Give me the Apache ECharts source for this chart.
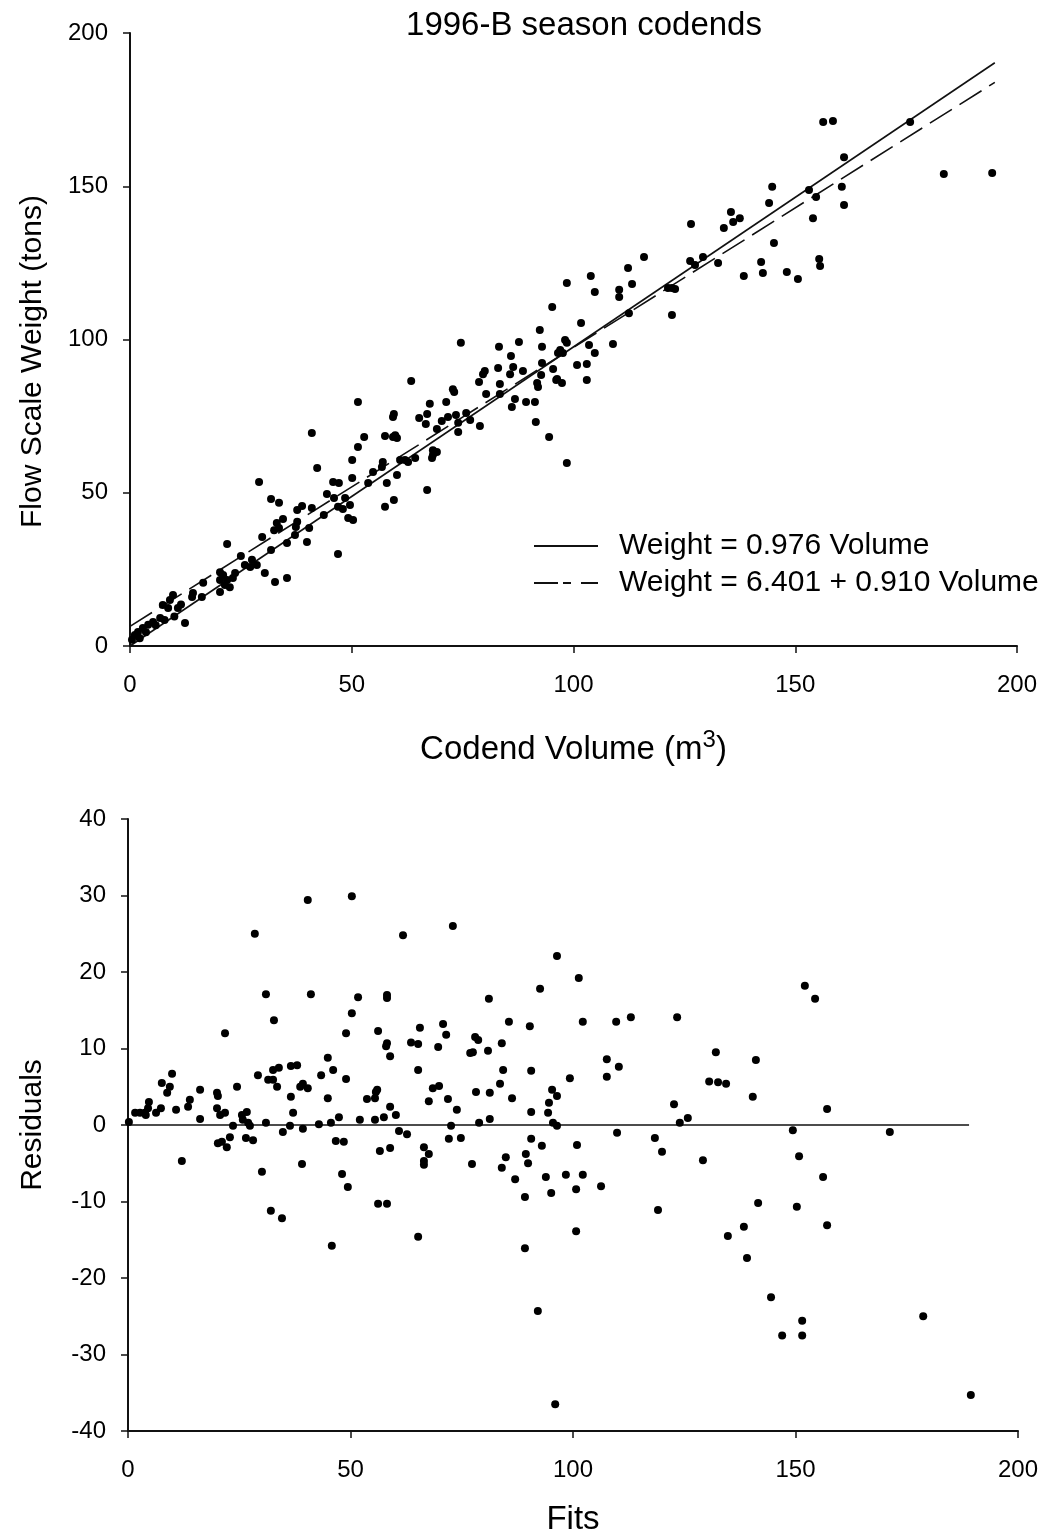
<!DOCTYPE html>
<html>
<head>
<meta charset="utf-8">
<title>1996-B season codends</title>
<script src="https://cdn.jsdelivr.net/npm/echarts@6/dist/echarts.min.js"></script>
<style>
  html, body { margin: 0; padding: 0; background: #fff; }
  #chart { width: 1043px; height: 1537px; }
</style>
</head>
<body>
<div id="chart"></div>
<script>
// codend volume (m3), flow scale weight (tons)
const volumeWeight = [
  [0.45, 2.0], [1.1, 3.6], [1.8, 4.6], [2.2, 2.5], [2.9, 5.9], [3.6, 4.5], [4.1, 6.9], [5.2, 7.8], [5.8, 6.8],
  [6.8, 9.1], [7.4, 13.4], [7.8, 8.5], [8.6, 12.4], [9.0, 15.0], [9.7, 16.6], [10.0, 9.6], [10.8, 12.4],
  [11.5, 13.5], [12.4, 7.5], [14.0, 16.0], [14.2, 17.3], [16.2, 16.0], [16.5, 20.6], [20.3, 24.1], [21.0, 23.2],
  [21.9, 21.5], [20.3, 21.5], [23.2, 22.2], [21.4, 19.9], [22.5, 19.2], [20.3, 17.6], [23.7, 23.8], [21.9, 33.3],
  [25.0, 29.4], [27.5, 28.1], [27.1, 25.8], [28.6, 26.4], [25.9, 26.4], [30.4, 23.8], [32.7, 20.9], [35.4, 22.2],
  [29.1, 53.5], [29.8, 35.6], [31.8, 48.0], [31.8, 31.3], [32.5, 37.8], [33.1, 40.1], [33.6, 46.7], [33.6, 38.5],
  [34.5, 41.4], [35.4, 33.6], [37.2, 36.2], [37.4, 38.8], [37.7, 44.4], [37.7, 40.5], [38.8, 45.7], [39.9, 33.9],
  [40.4, 38.5], [41.0, 69.5], [41.0, 45.0], [42.2, 58.1], [43.7, 42.7], [44.4, 49.6], [45.8, 53.5], [46.0, 48.3],
  [46.9, 45.4], [46.9, 30.0], [47.1, 53.2], [48.0, 44.7], [48.5, 48.3], [49.2, 41.8], [49.6, 46.0], [50.1, 60.7],
  [50.1, 54.8], [50.3, 41.1], [51.4, 79.6], [51.4, 64.9], [52.8, 68.2], [53.7, 53.2], [54.8, 56.8], [56.8, 58.4],
  [57.0, 60.0], [57.5, 68.5], [57.5, 45.4], [57.9, 53.2], [59.3, 74.7], [59.3, 68.2], [59.5, 75.7], [59.5, 47.6],
  [59.8, 68.8], [60.2, 67.9], [60.2, 55.8], [60.9, 60.7], [62.0, 60.7], [62.7, 60.0], [63.4, 86.5], [64.3, 61.3],
  [65.2, 74.4], [66.7, 72.4], [67.0, 75.7], [67.0, 50.9], [67.6, 79.0], [68.1, 61.3], [68.3, 63.9], [68.3, 62.3],
  [69.2, 70.8], [69.2, 63.3], [70.3, 73.4], [71.3, 79.6], [71.7, 74.7], [72.8, 83.8], [73.1, 82.9], [73.5, 75.4],
  [74.0, 69.8], [74.0, 72.8], [74.6, 98.9], [75.8, 76.0], [76.7, 73.7], [78.7, 86.1], [78.9, 71.8], [79.6, 88.7],
  [80.0, 89.7], [80.3, 82.2], [83.0, 90.7], [83.2, 97.6], [83.4, 85.5], [83.4, 82.2], [85.7, 88.7], [85.9, 94.6],
  [86.1, 78.0], [86.4, 91.0], [86.8, 80.6], [87.7, 99.2], [88.6, 89.7], [89.3, 79.6], [91.3, 79.6], [91.5, 73.1],
  [91.8, 85.8], [92.0, 84.5], [92.4, 103.1], [92.7, 88.4], [92.9, 97.6], [92.9, 92.3], [94.5, 68.2], [95.2, 110.6],
  [95.4, 90.4], [96.1, 86.8], [96.3, 87.1], [96.5, 95.6], [97.0, 96.6], [97.4, 85.8], [97.6, 95.6], [98.1, 99.8],
  [98.5, 118.4], [98.5, 98.9], [98.5, 59.7], [100.8, 91.7], [101.7, 105.4], [103.0, 92.0], [103.0, 86.8],
  [103.5, 98.2], [103.9, 120.7], [104.8, 115.5], [104.8, 95.6], [108.9, 98.5], [110.3, 116.2], [110.3, 113.9],
  [112.3, 123.3], [112.5, 108.6], [113.2, 118.1], [115.9, 126.9], [121.3, 116.8], [122.2, 116.8], [122.2, 108.0],
  [122.9, 116.5], [126.3, 125.6], [126.5, 137.7], [127.4, 124.3], [129.2, 126.9], [132.6, 125.0], [133.9, 136.4],
  [135.5, 141.6], [136.0, 138.3], [137.5, 139.6], [138.4, 120.7], [142.3, 125.3], [142.7, 121.7], [144.1, 144.5],
  [144.8, 149.8], [145.2, 131.5], [148.1, 122.0], [150.6, 119.7], [153.1, 148.8], [154.0, 139.6], [154.7, 146.5],
  [155.4, 126.3], [155.6, 124.0], [156.3, 171.0], [158.5, 171.3], [160.5, 149.8], [161.0, 159.5], [161.0, 143.9],
  [175.9, 171.0], [183.5, 154.0], [194.4, 154.3]
];

// regression lines, end points
const fitThroughOrigin = [[0, 0], [195, 190.3]];
const fitWithIntercept = [[0, 6.4], [195, 183.9]];
const fitNames = ['Weight = 0.976 Volume', 'Weight = 6.401 + 0.910 Volume'];

// fitted value, residual
const fitResidual = [
  [0.2, 0.4], [1.6, 1.6], [2.7, 1.6], [3.8, 1.6], [4.5, 2.2], [4.7, 3.0], [4.0, 1.3], [6.3, 1.6], [7.4, 2.2],
  [7.6, 5.5], [9.4, 5.0], [9.9, 6.7], [8.8, 4.2], [10.8, 2.0], [13.9, 3.3], [13.5, 2.4], [16.2, 4.6], [16.2, 0.8],
  [12.1, -4.7], [21.8, 12.0], [20.0, 4.2], [20.2, 3.8], [20.0, 2.2], [20.7, 1.3], [21.8, 1.6], [24.5, 5.0],
  [20.2, -2.4], [21.1, -2.2], [22.2, -2.9], [22.9, -1.6], [23.6, -0.1], [25.6, 1.3], [26.7, 1.7], [25.8, 0.7],
  [27.0, 0.3], [27.4, -0.1], [26.5, -1.7], [28.1, -2.0], [28.5, 25.0], [29.2, 6.5], [31.0, 17.1], [32.8, 13.7],
  [31.5, 5.9], [32.6, 5.9], [33.5, 5.0], [32.6, 7.2], [33.9, 7.5], [31.0, 0.3], [30.1, -6.1], [32.1, -11.2],
  [34.6, -12.2], [34.8, -0.9], [36.4, -0.1], [36.6, 3.7], [37.1, 1.6], [36.6, 7.7], [38.0, 7.8], [38.7, 5.0],
  [39.3, 5.4], [40.4, 4.8], [39.3, -0.5], [39.1, -5.1], [40.4, 29.4], [41.1, 17.1], [42.9, 0.1], [43.4, 6.5],
  [44.9, 8.8], [46.1, 7.2], [44.9, 3.5], [45.6, 0.3], [47.4, 1.0], [46.7, -2.1], [48.5, -2.2], [48.1, -6.4],
  [49.4, -8.1], [45.8, -15.8], [49.0, 6.0], [49.0, 12.0], [50.3, 29.9], [51.7, 16.7], [50.3, 14.6], [53.7, 3.4],
  [52.1, 0.7], [55.5, 0.7], [55.7, 4.3], [56.0, 4.6], [55.5, 3.5], [56.2, 12.3], [58.2, 17.0], [58.2, 16.6],
  [58.2, 10.7], [58.0, 10.3], [58.9, 9.0], [58.9, 2.4], [57.5, 1.0], [60.2, 1.3], [56.6, -3.4], [58.9, -3.0],
  [60.9, -0.8], [62.7, -1.2], [56.2, -10.3], [58.2, -10.3], [61.8, 24.8], [63.6, 10.8], [65.2, 10.6], [65.2, 7.2],
  [65.6, 12.7], [65.2, -14.6], [73.0, 26.0], [96.4, 22.1], [101.3, 19.2], [92.6, 17.8], [81.1, 16.5], [70.8, 13.2],
  [71.5, 11.8], [69.7, 10.2], [78.0, 11.5], [78.7, 11.1], [76.9, 9.4], [77.5, 9.5], [80.9, 9.7], [84.0, 10.7],
  [85.6, 13.5], [90.3, 12.9], [102.2, 13.5], [109.7, 13.5], [113.0, 14.1], [123.4, 14.1], [84.3, 7.2], [90.6, 7.1],
  [68.5, 4.8], [69.9, 5.1], [67.6, 3.1], [71.9, 3.4], [73.9, 2.0], [78.2, 4.3], [81.3, 4.2], [83.6, 5.4],
  [86.3, 3.5], [90.6, 1.7], [107.6, 8.6], [110.3, 7.6], [107.6, 6.3], [99.3, 6.1], [95.3, 4.6], [96.4, 3.8],
  [94.6, 2.9], [94.4, 1.6], [72.6, -0.1], [78.9, 0.3], [81.3, 0.8], [95.5, 0.3], [96.4, -0.1], [122.7, 2.7],
  [124.0, 0.3], [125.8, 0.9], [66.5, -2.9], [67.6, -3.8], [66.5, -4.7], [66.5, -5.2], [72.1, -1.8], [74.8, -1.7],
  [77.3, -5.1], [84.9, -4.2], [84.0, -5.6], [90.6, -1.8], [93.0, -2.7], [89.4, -3.8], [89.9, -5.0], [87.0, -7.1],
  [89.2, -9.4], [93.9, -6.8], [95.1, -8.9], [98.4, -6.5], [102.2, -6.5], [100.7, -8.4], [106.3, -8.0],
  [100.9, -2.6], [109.9, -1.0], [118.4, -1.7], [120.0, -3.5], [119.1, -11.1], [100.7, -13.9], [89.2, -16.1],
  [92.1, -24.3], [96.0, -36.5], [152.1, 18.2], [154.4, 16.5], [132.1, 9.5], [141.1, 8.5], [130.6, 5.7],
  [132.6, 5.6], [134.4, 5.4], [140.4, 3.7], [157.1, 2.1], [149.4, -0.7], [171.2, -0.9], [129.2, -4.6],
  [150.8, -4.1], [156.2, -6.8], [141.6, -10.2], [150.3, -10.7], [157.1, -13.1], [134.8, -14.5], [138.4, -13.3],
  [139.1, -17.4], [144.5, -22.5], [151.5, -25.6], [147.0, -27.5], [151.5, -27.5], [178.7, -25.0], [189.4, -35.3]
];
const zeroLine = [[0, 0], [189, 0]];

// axis ranges
const volumeTicks = [0, 50, 100, 150, 200];
const weightTicks = [0, 50, 100, 150, 200];
const fitTicks = [0, 50, 100, 150, 200];
const residualTicks = [-40, -30, -20, -10, 0, 10, 20, 30, 40];

const FONT = 'Liberation Sans, Arial, sans-serif';
const INK = '#111';
const DASH = [26, 9];

function axisBase(ticks) {
  return {
    type: 'value',
    min: ticks[0],
    max: ticks[ticks.length - 1],
    interval: ticks[1] - ticks[0],
    splitLine: { show: false },
    axisLine: { show: true, onZero: false, lineStyle: { color: INK, width: 2 } },
    axisTick: { show: true, inside: false, length: 7, lineStyle: { color: INK, width: 1.5 } },
    axisLabel: { color: '#000', fontSize: 24, fontFamily: FONT },
    nameTextStyle: { color: '#000', fontSize: 30, fontFamily: FONT }
  };
}

let myChart = echarts.init(document.getElementById('chart'), null, { renderer: 'canvas' });

let option = {
  backgroundColor: '#fff',
  animation: false,
  title: {
    text: '1996-B season codends',
    left: 579,
    textAlign: 'center',
    top: 4,
    textStyle: { color: '#000', fontSize: 33, fontWeight: 'normal', fontFamily: FONT }
  },
  legend: {
    orient: 'vertical',
    left: 533,
    top: 531,
    itemWidth: 64,
    itemHeight: 14,
    itemGap: 7,
    padding: 0,
    data: [
      { name: fitNames[0], itemStyle: { opacity: 0 } },
      { name: fitNames[1], itemStyle: { opacity: 0 }, lineStyle: { type: [24, 5, 8, 10] } }
    ],
    textStyle: { color: '#000', fontSize: 30, fontFamily: FONT, padding: [0, 0, 0, 16] }
  },
  grid: [
    { left: 130, top: 33, width: 887, height: 613 },
    { left: 128, top: 819, width: 890, height: 612 }
  ],
  xAxis: [
    Object.assign(axisBase(volumeTicks), {
      gridIndex: 0,
      name: 'Codend Volume (m{sup|3})',
      nameLocation: 'middle',
      nameGap: 82,
      axisLabel: { color: '#000', fontSize: 24, fontFamily: FONT, margin: 27 },
      nameTextStyle: {
        color: '#000', fontSize: 33, fontFamily: FONT,
        rich: { sup: { fontSize: 24, fontFamily: FONT, color: '#000', padding: [0, 0, 20, 0] } }
      }
    }),
    Object.assign(axisBase(fitTicks), {
      gridIndex: 1,
      name: 'Fits',
      nameLocation: 'middle',
      nameGap: 72,
      axisLabel: { color: '#000', fontSize: 24, fontFamily: FONT, margin: 27 },
      nameTextStyle: { color: '#000', fontSize: 33, fontFamily: FONT }
    })
  ],
  yAxis: [
    Object.assign(axisBase(weightTicks), {
      gridIndex: 0,
      name: 'Flow Scale Weight (tons)',
      nameLocation: 'middle',
      nameGap: 82,
      axisLabel: { color: '#000', fontSize: 24, fontFamily: FONT, margin: 22 },
      nameTextStyle: { color: '#000', fontSize: 30, fontFamily: FONT, padding: [0, 44, 0, 0] }
    }),
    Object.assign(axisBase(residualTicks), {
      gridIndex: 1,
      name: 'Residuals',
      nameLocation: 'middle',
      nameGap: 80,
      axisLabel: { color: '#000', fontSize: 24, fontFamily: FONT, margin: 22 }
    })
  ],
  series: [
    {
      name: fitNames[0],
      type: 'line',
      xAxisIndex: 0,
      yAxisIndex: 0,
      data: fitThroughOrigin,
      showSymbol: false,
      symbol: 'none',
      lineStyle: { color: INK, width: 1.6 },
      itemStyle: { color: INK },
      z: 3
    },
    {
      name: fitNames[1],
      type: 'line',
      xAxisIndex: 0,
      yAxisIndex: 0,
      data: fitWithIntercept,
      showSymbol: false,
      symbol: 'none',
      lineStyle: { color: INK, width: 1.6, type: DASH },
      itemStyle: { color: INK },
      z: 3
    },
    {
      name: 'Observed',
      type: 'scatter',
      xAxisIndex: 0,
      yAxisIndex: 0,
      data: volumeWeight,
      symbol: 'circle',
      symbolSize: 8,
      itemStyle: { color: '#000', opacity: 1 },
      z: 4
    },
    {
      name: 'Zero',
      type: 'line',
      xAxisIndex: 1,
      yAxisIndex: 1,
      data: zeroLine,
      showSymbol: false,
      symbol: 'none',
      lineStyle: { color: INK, width: 1.6 },
      z: 3
    },
    {
      name: 'Residuals',
      type: 'scatter',
      xAxisIndex: 1,
      yAxisIndex: 1,
      data: fitResidual,
      symbol: 'circle',
      symbolSize: 8,
      itemStyle: { color: '#000', opacity: 1 },
      z: 4
    }
  ]
};

if (option && typeof option === 'object') {
  myChart.setOption(option);
}
</script>
</body>
</html>
